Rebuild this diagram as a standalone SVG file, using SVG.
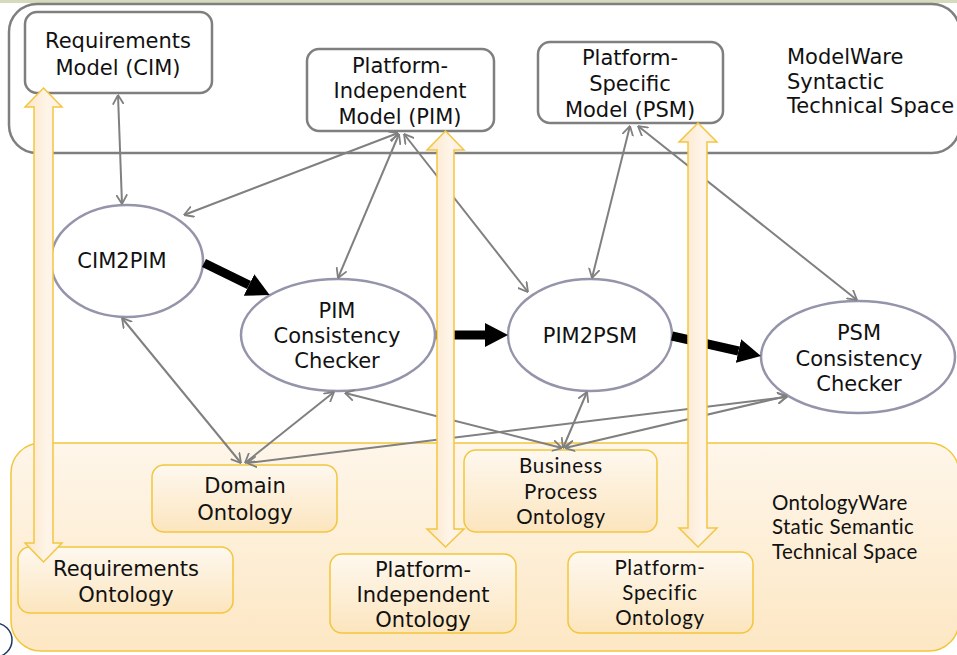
<svg xmlns="http://www.w3.org/2000/svg" width="957" height="655" viewBox="0 0 957 655">
<defs>
<style>
.sp{fill:none;stroke:#7f7f7f;stroke-width:2.5}
.mb{fill:#fff;stroke:#7f7f7f;stroke-width:2.5}
.el{fill:#fff;stroke:#9494aa;stroke-width:2.5}
.ob{fill:url(#og);stroke:#f2c63c;stroke-width:1.5}
.t{font-family:"DejaVu Sans",Verdana,sans-serif;font-size:21px;fill:#111;text-anchor:middle}
.c{font-family:Lato,"Open Sans",sans-serif;font-size:20.5px;letter-spacing:0.7px;fill:#111;text-anchor:middle}
.con{fill:none;stroke:#808080;stroke-width:2;marker-start:url(#ah);marker-end:url(#ah)}
.thk{fill:none;stroke:#000;stroke-width:9;marker-end:url(#th)}
.ya{fill:url(#yg);stroke:#f3c640;stroke-width:1.5}
</style>
<linearGradient id="og" x1="0" y1="0" x2="0" y2="1"><stop offset="0" stop-color="#fef8ef"/><stop offset="1" stop-color="#fce5be"/></linearGradient>
<linearGradient id="bg" x1="0" y1="0" x2="0" y2="1"><stop offset="0" stop-color="#fef6ea"/><stop offset="1" stop-color="#fde7c4"/></linearGradient>
<linearGradient id="yg" x1="0" y1="0" x2="1" y2="0"><stop offset="0" stop-color="#fce6c8"/><stop offset="0.6" stop-color="#fef4e8"/><stop offset="1" stop-color="#fdf0e0"/></linearGradient>
<marker id="ah" viewBox="0 0 10 12" refX="9.5" refY="6" markerWidth="10" markerHeight="12" markerUnits="userSpaceOnUse" orient="auto-start-reverse"><path d="M0,0.5 L9.5,6 L0,11.5" fill="none" stroke="#808080" stroke-width="1.8"/></marker>
<marker id="th" viewBox="0 0 23 24" refX="0" refY="12" markerWidth="23" markerHeight="24" markerUnits="userSpaceOnUse" orient="auto"><path d="M0,0 L23,12 L0,24 Z" fill="#000"/></marker>
</defs>
<rect x="0" y="0" width="957" height="3" fill="#d6dbbd"/>
<g id="modelware-space">
<rect class="sp" x="9" y="4" width="951" height="149" rx="28"/>
<text x="787" y="64" class="t" style="text-anchor:start">ModelWare</text>
<text x="787" y="89" class="t" style="text-anchor:start">Syntactic</text>
<text x="787" y="113" class="t" style="text-anchor:start">Technical Space</text>
</g>
<g id="ontologyware-space">
<rect x="11" y="443" width="948" height="208" rx="30" fill="url(#bg)" stroke="#f2c63c" stroke-width="1.5"/>
<text x="772" y="510" class="c" style="text-anchor:start;letter-spacing:0.3px">OntologyWare</text>
<text x="772" y="534" class="c" style="text-anchor:start;letter-spacing:0.3px">Static Semantic</text>
<text x="772" y="559" class="c" style="text-anchor:start;letter-spacing:0.3px">Technical Space</text>
</g>
<circle cx="-5" cy="640" r="17" fill="#fff" stroke="#1f3864" stroke-width="1.5"/>
<g id="cim-model"><rect class="mb" x="25" y="12" width="187" height="81" rx="12"/>
<text x="118" y="48" class="t">Requirements</text><text x="118" y="75" class="t">Model (CIM)</text></g>
<g id="pim-model"><rect class="mb" x="307" y="49" width="187" height="82" rx="12"/>
<text x="400" y="73" class="t">Platform-</text><text x="400" y="98" class="t">Independent</text><text x="400" y="124" class="t">Model (PIM)</text></g>
<g id="psm-model"><rect class="mb" x="538" y="42" width="185" height="81" rx="12"/>
<text x="630" y="65" class="t">Platform-</text><text x="630" y="91" class="t">Specific</text><text x="630" y="117" class="t">Model (PSM)</text></g>
<g id="domain-ontology"><rect class="ob" x="152" y="465" width="185" height="67" rx="12"/>
<text x="245" y="493" class="t">Domain</text><text x="245" y="520" class="t">Ontology</text></g>
<g id="requirements-ontology"><rect class="ob" x="18" y="547" width="215" height="66" rx="12"/>
<text x="126" y="576" class="t">Requirements</text><text x="126" y="602" class="t">Ontology</text></g>
<g id="pi-ontology"><rect class="ob" x="330" y="554" width="186" height="79" rx="12"/>
<text x="423" y="577" class="t">Platform-</text><text x="423" y="602" class="t">Independent</text><text x="423" y="627" class="t">Ontology</text></g>
<g id="bp-ontology"><rect class="ob" x="464" y="450" width="193" height="82" rx="12"/>
<text x="561" y="473" class="c">Business</text><text x="561" y="498.5" class="c">Process</text><text x="561" y="524" class="c">Ontology</text></g>
<g id="ps-ontology"><rect class="ob" x="568" y="552" width="185" height="81" rx="12"/>
<text x="660" y="575" class="c">Platform-</text><text x="660" y="600" class="c">Specific</text><text x="660" y="625" class="c">Ontology</text></g>
<g id="cim2pim"><ellipse class="el" cx="127" cy="261" rx="76" ry="56"/><text x="122" y="268" class="t">CIM2PIM</text></g>
<g id="pim-checker"><ellipse class="el" cx="338" cy="335" rx="97" ry="56"/>
<text x="337" y="318" class="t">PIM</text><text x="337" y="343" class="t">Consistency</text><text x="337" y="368" class="t">Checker</text></g>
<g id="pim2psm"><ellipse class="el" cx="590" cy="335" rx="82" ry="56"/><text x="590" y="343" class="t">PIM2PSM</text></g>
<g id="psm-checker"><ellipse class="el" cx="858" cy="357" rx="97" ry="56"/>
<text x="859" y="340" class="t">PSM</text><text x="859" y="366" class="t">Consistency</text><text x="859" y="391" class="t">Checker</text></g>
<g id="connectors">
<line class="con" x1="118" y1="95" x2="122" y2="204"/>
<line class="con" x1="398" y1="133" x2="184" y2="215"/>
<line class="con" x1="399" y1="134" x2="338" y2="278"/>
<line class="con" x1="404" y1="134" x2="528" y2="292"/>
<line class="con" x1="630" y1="126" x2="592" y2="278"/>
<line class="con" x1="638" y1="126" x2="857" y2="300"/>
<line class="con" x1="122" y1="318" x2="241" y2="463"/>
<line class="con" x1="334" y1="392" x2="245" y2="463"/>
<line class="con" x1="345" y1="393" x2="562" y2="448"/>
<line class="con" x1="587" y1="392" x2="563" y2="448"/>
<line class="con" x1="787" y1="396" x2="565" y2="448"/>
<line class="con" x1="787" y1="397" x2="247" y2="463"/>
<line class="thk" x1="204" y1="263" x2="249" y2="285"/>
<line class="thk" x1="436" y1="335" x2="485" y2="335"/>
<line class="thk" x1="672" y1="336" x2="738.5" y2="351"/>
</g>
<g id="mapping-arrows">
<path class="ya" d="M43.5,88 L62,107 L53,107 L53,543 L62,543 L43.5,562 L25,543 L34,543 L34,107 L25,107 Z"/>
<path class="ya" d="M445.5,131 L464,150 L454,150 L454,529 L464,529 L445.5,547 L427,529 L437,529 L437,150 L427,150 Z"/>
<path class="ya" d="M698,123 L717,142 L707,142 L707,528 L717,528 L698,547 L679,528 L688,528 L688,142 L679,142 Z"/>
</g>
</svg>
